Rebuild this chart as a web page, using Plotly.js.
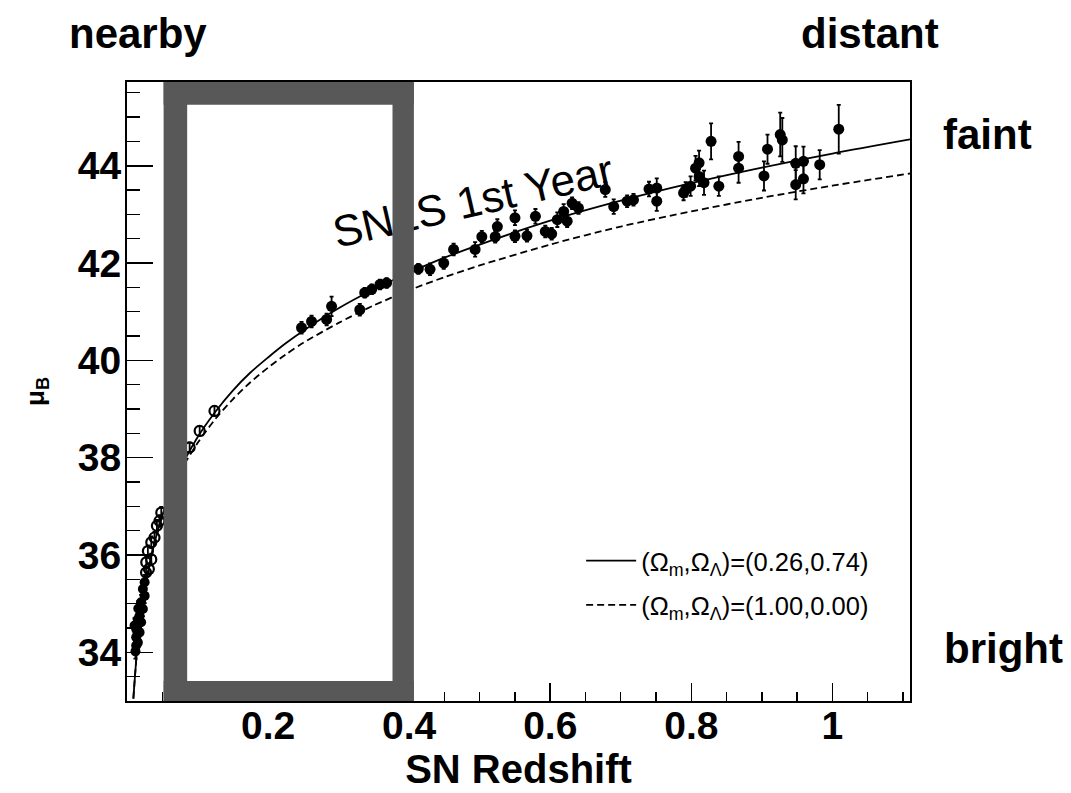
<!DOCTYPE html>
<html><head><meta charset="utf-8">
<script src="https://cdn.plot.ly/plotly-3.0.1.min.js"></script>
<style>html,body{margin:0;padding:0;background:#fff}#chart{width:1071px;height:793px}</style>
</head><body><div id="chart"></div>
<script>
// ---- data ----
const nearbyFilledZ  = [0.025, 0.0225, 0.025, 0.020, 0.0225, 0.0154, 0.020, 0.013, 0.0178, 0.013, 0.0154, 0.013, 0.0107, 0.0178, 0.012, 0.016];
const nearbyFilledMu = [35.44, 35.30, 35.16, 35.03, 34.89, 34.68, 34.62, 34.48, 34.41, 34.31, 34.20, 34.14, 34.55, 34.75, 34.02, 34.90];
const nearbyFilledErr= [0.15, 0.15, 0.15, 0.15, 0.15, 0.15, 0.15, 0.15, 0.15, 0.15, 0.15, 0.15, 0.15, 0.15, 0.15, 0.15];

const nearbyOpenZ  = [0.0486, 0.046, 0.0424, 0.039, 0.0344, 0.0296, 0.0344, 0.0273, 0.031, 0.027, 0.0888, 0.103, 0.124];
const nearbyOpenMu = [36.87, 36.70, 36.60, 36.36, 36.26, 36.08, 35.91, 35.85, 35.71, 35.64, 38.21, 38.55, 38.96];
const nearbyOpenErr= [0.12, 0.12, 0.12, 0.12, 0.12, 0.12, 0.12, 0.12, 0.12, 0.12, 0.1, 0.1, 0.1];

const snlsZ  = [0.2474, 0.2616, 0.283, 0.290, 0.330, 0.337, 0.347, 0.3586, 0.368, 0.413, 0.4296, 0.449, 0.463, 0.4935,
                0.503, 0.522, 0.525, 0.550, 0.550, 0.567, 0.579, 0.593, 0.602, 0.610, 0.624, 0.619, 0.631, 0.640,
                0.678, 0.690, 0.709, 0.718, 0.740, 0.751, 0.751, 0.789, 0.792, 0.799, 0.806, 0.811, 0.811, 0.818,
                0.828, 0.839, 0.867, 0.867, 0.903, 0.908, 0.926, 0.929, 0.948, 0.948, 0.959, 0.959, 0.982, 1.009];
const snlsMu = [40.67, 40.80, 40.84, 41.11, 41.04, 41.39, 41.46, 41.56, 41.59, 41.88, 41.87, 42.00, 42.28, 42.28,
                42.54, 42.54, 42.75, 42.93, 42.55, 42.56, 42.96, 42.65, 42.60, 42.89, 42.86, 43.06, 43.23, 43.13,
                43.51, 43.16, 43.27, 43.30, 43.52, 43.54, 43.27, 43.44, 43.51, 43.58, 43.95, 44.06, 43.78, 43.65,
                44.50, 43.58, 44.19, 43.95, 43.79, 44.34, 44.64, 44.53, 44.05, 43.61, 44.09, 43.73, 44.02, 44.75];
const snlsErr= [0.12, 0.12, 0.12, 0.20, 0.12, 0.10, 0.10, 0.10, 0.10, 0.10, 0.12, 0.12, 0.12, 0.15,
                0.12, 0.12, 0.15, 0.15, 0.12, 0.12, 0.15, 0.12, 0.12, 0.15, 0.12, 0.15, 0.12, 0.12,
                0.15, 0.15, 0.12, 0.12, 0.15, 0.20, 0.20, 0.15, 0.15, 0.20, 0.25, 0.25, 0.20, 0.25,
                0.37, 0.20, 0.30, 0.30, 0.30, 0.30, 0.45, 0.45, 0.35, 0.30, 0.30, 0.30, 0.30, 0.50];

const curveZ  = [0.009, 0.015, 0.02, 0.03, 0.04, 0.05, 0.07, 0.1, 0.125, 0.15, 0.175, 0.2, 0.225, 0.25, 0.3, 0.35, 0.4, 0.45, 0.5, 0.6, 0.7, 0.8, 0.9, 1.0, 1.11];
const lcdmMu  = [33.05, 34.17, 34.79, 35.68, 36.31, 36.80, 37.60, 38.42, 38.94, 39.38, 39.75, 40.06, 40.35, 40.61, 41.07, 41.46, 41.80, 42.11, 42.38, 42.87, 43.28, 43.64, 43.96, 44.25, 44.54];
const edsMu   = [33.05, 34.17, 34.79, 35.68, 36.30, 36.80, 37.57, 38.30, 38.79, 39.20, 39.55, 39.85, 40.12, 40.36, 40.77, 41.13, 41.44, 41.71, 41.95, 42.38, 42.75, 43.06, 43.34, 43.59, 43.84];

const xTickVals = [0.2, 0.4, 0.6, 0.8, 1];
const xTickText = ['0.2', '0.4', '0.6', '0.8', '1'];
const yTickVals = [34, 36, 38, 40, 42, 44];
const yTickText = ['34', '36', '38', '40', '42', '44'];

const lcdmName = '(Ω<sub>m</sub>,Ω<sub>Λ</sub>)=(0.26,0.74)';
const edsName  = '(Ω<sub>m</sub>,Ω<sub>Λ</sub>)=(1.00,0.00)';

// ---- styling ----
const FONT = 'Liberation Sans, Arial, Helvetica, sans-serif';
const bandColor = '#585858';

const errStyle = (arr) => ({type: 'data', array: arr, visible: true, color: '#000', thickness: 1.8, width: 2});

const traces = [
  {x: curveZ, y: lcdmMu, mode: 'lines', name: lcdmName, line: {color: '#000', width: 1.8, shape: 'spline', smoothing: 0.8}, legendgroup: 'a', hoverinfo: 'skip'},
  {x: curveZ, y: edsMu, mode: 'lines', name: edsName, line: {color: '#000', width: 1.8, dash: '7px,4px', shape: 'spline', smoothing: 0.8}, legendgroup: 'b', hoverinfo: 'skip'},
  {x: nearbyFilledZ, y: nearbyFilledMu, mode: 'markers', showlegend: false, error_y: errStyle(nearbyFilledErr),
   marker: {symbol: 'circle', size: 10, color: '#000'}},
  {x: nearbyOpenZ, y: nearbyOpenMu, mode: 'markers', showlegend: false, error_y: errStyle(nearbyOpenErr),
   marker: {symbol: 'circle-open', size: 10, color: '#000', line: {width: 2.2, color: '#000'}}},
  {x: snlsZ, y: snlsMu, mode: 'markers', showlegend: false, error_y: errStyle(snlsErr),
   marker: {symbol: 'circle', size: 11, color: '#000'}}
];

const Y0 = 33.0, Y1 = 45.72;
const bandX0 = 0.0519, bandX1 = 0.4067, bandIX0 = 0.0853, bandIX1 = 0.3764;
const bandIY0 = 33.41, bandIY1 = 45.25;

const shapes = [
  // label carrier (drawn first so the band covers part of it)
  {type: 'line', layer: 'above', xref: 'x', yref: 'y', x0: 0.479, x1: 0.499, y0: 43.36, y1: 43.36,
   line: {color: 'rgba(0,0,0,0)', width: 0},
   label: {text: 'SNLS 1st Year', textangle: -13, textposition: 'middle', yanchor: 'middle', xanchor: 'center',
           font: {family: FONT, size: 44, color: '#000'}}},
  {type: 'rect', layer: 'above', xref: 'x', yref: 'y', x0: bandX0, x1: bandIX0, y0: Y0, y1: Y1, fillcolor: bandColor, line: {width: 0}},
  {type: 'rect', layer: 'above', xref: 'x', yref: 'y', x0: bandIX1, x1: bandX1, y0: Y0, y1: Y1, fillcolor: bandColor, line: {width: 0}},
  {type: 'rect', layer: 'above', xref: 'x', yref: 'y', x0: bandX0, x1: bandX1, y0: bandIY1, y1: Y1, fillcolor: bandColor, line: {width: 0}},
  {type: 'rect', layer: 'above', xref: 'x', yref: 'y', x0: bandX0, x1: bandX1, y0: Y0, y1: bandIY0, fillcolor: bandColor, line: {width: 0}}
];

const sideFont = {family: FONT, size: 42, color: '#000', weight: 'bold'};
const annotations = [
  {text: 'nearby', xref: 'paper', yref: 'paper', x: -0.076, y: 1.078, xanchor: 'left', yanchor: 'middle', showarrow: false, font: sideFont},
  {text: 'distant', xref: 'paper', yref: 'paper', x: 1.0395, y: 1.078, xanchor: 'right', yanchor: 'middle', showarrow: false, font: sideFont},
  {text: 'faint', xref: 'paper', yref: 'paper', x: 1.040, y: 0.915, xanchor: 'left', yanchor: 'middle', showarrow: false, font: sideFont},
  {text: 'bright', xref: 'paper', yref: 'paper', x: 1.041, y: 0.085, xanchor: 'left', yanchor: 'middle', showarrow: false, font: sideFont}
];

const tickFont = {family: FONT, size: 39, color: '#000', weight: 'bold'};

const layout = {
  width: 1071, height: 793,
  margin: {l: 127, r: 161, t: 82, b: 92},
  paper_bgcolor: '#fff', plot_bgcolor: '#fff',
  showlegend: true,
  legend: {x: 0.58, y: 0.264, xanchor: 'left', yanchor: 'top', bgcolor: 'rgba(0,0,0,0)', borderwidth: 0,
           font: {family: FONT, size: 25.5, color: '#000'}, traceorder: 'grouped', tracegroupgap: 8, itemwidth: 50},
  xaxis: {
    range: [0, 1.11], tickvals: xTickVals, ticktext: xTickText, ticks: 'inside', ticklen: 18, tickwidth: 1.6, tickcolor: '#000',
    minor: {dtick: 0.05, tick0: 0, ticks: 'inside', ticklen: 9, tickwidth: 1.3, tickcolor: '#000'},
    showline: true, linewidth: 2, linecolor: '#000', mirror: true, showgrid: false, zeroline: false,
    tickfont: tickFont, ticklabelstandoff: -11,
    title: {text: 'SN Redshift', font: {family: FONT, size: 40, color: '#000', weight: 'bold'}, standoff: 0}
  },
  yaxis: {
    range: [Y0, Y1], tickvals: yTickVals, ticktext: yTickText, ticks: 'inside', ticklen: 26, tickwidth: 1.6, tickcolor: '#000',
    minor: {dtick: 0.5, tick0: 0, ticks: 'inside', ticklen: 13, tickwidth: 1.3, tickcolor: '#000'},
    showline: true, linewidth: 2, linecolor: '#000', mirror: true, showgrid: false, zeroline: false,
    tickfont: tickFont, ticklabelstandoff: -4,
    title: {text: 'μ<sub>B</sub>', font: {family: FONT, size: 26, color: '#000', weight: 'bold'}, standoff: 26}
  },
  shapes: shapes,
  annotations: annotations
};

Plotly.newPlot('chart', traces, layout, {displayModeBar: false, staticPlot: true});
</script>
</body></html>
